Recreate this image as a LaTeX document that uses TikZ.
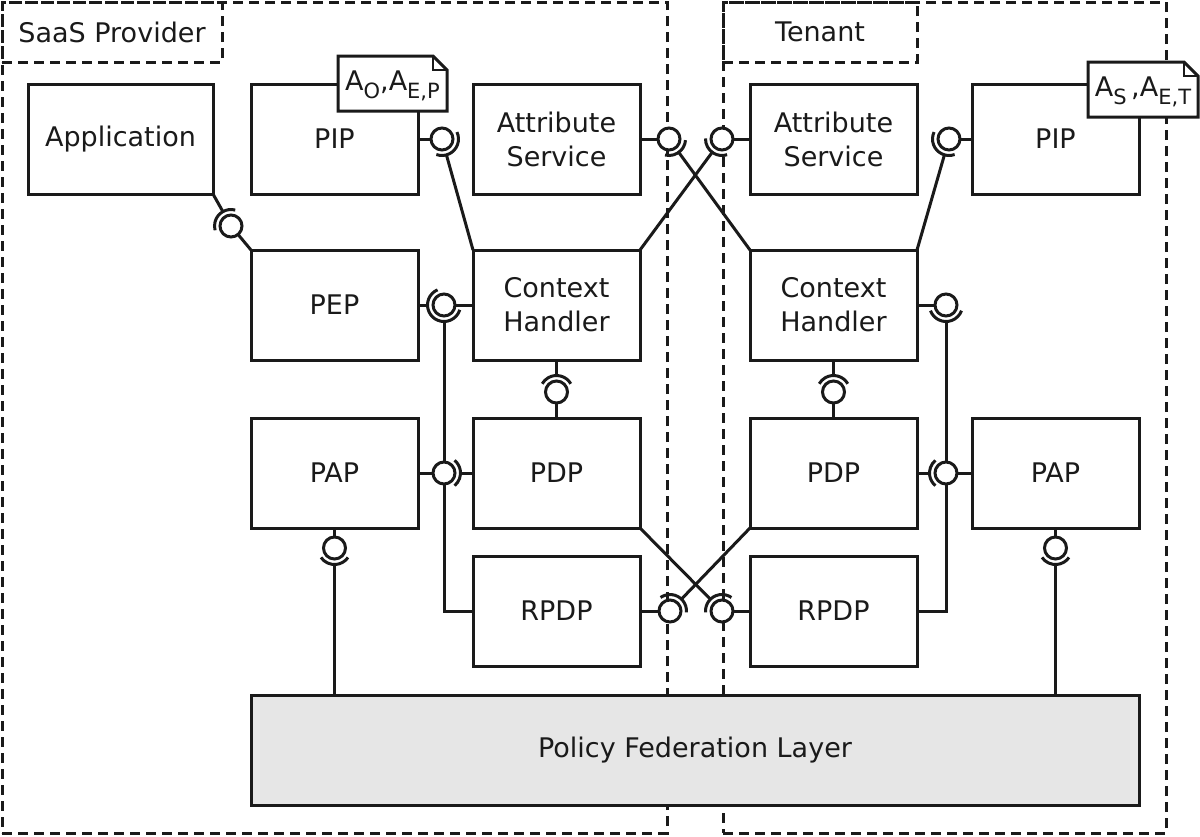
\documentclass[tikz,border=0pt]{standalone}
\usepackage{fontspec}
\setmainfont{DejaVu Sans}
\usetikzlibrary{calc,backgrounds}
\definecolor{ink}{HTML}{1A1A1A}
\definecolor{pflgray}{HTML}{E6E6E6}
\newcommand\sbs[1]{\raisebox{-4pt}{\fontsize{10.5}{10.5}\selectfont #1}}
\newcommand\sockarc[3]{\draw[ink,line width=1.5pt] ([shift={(#2:8.25pt)}]#1.center) arc[start angle=#2,end angle=#3,radius=8.25pt];}
\begin{document}
\begin{tikzpicture}[x=0.5pt,y=-0.5pt,
  font=\fontsize{13.5}{17}\selectfont,
  box/.style={draw=ink, line width=1.5pt, fill=white, minimum width=83.5pt, minimum height=55pt, inner sep=0pt, outer sep=0pt, align=center, text=ink},
  ball/.style={circle, draw=ink, fill=white, line width=1.5pt, minimum size=11pt, inner sep=0pt, outer sep=0pt},
  wire/.style={draw=ink, line width=1.5pt},
  dashbox/.style={draw=ink, line width=1.5pt, dash pattern=on 5pt off 3pt, inner sep=0pt, outer sep=0pt, text=ink},
  notebox/.style={draw=ink, fill=white, line width=1.5pt, line join=miter},
]
\useasboundingbox (0,0) rectangle (1200,836);
% regions
\node[dashbox, minimum width=332.5pt, minimum height=415.5pt] (saas) at (334.5,417.5) {};
\node[dashbox, minimum width=221.5pt, minimum height=415.5pt] (tenant) at (944.5,417.5) {};
\node[dashbox, minimum width=110pt, minimum height=30pt] (lsaas) at (112,32) {SaaS Provider};
\node[dashbox, minimum width=97pt, minimum height=30pt] (lten) at (820,32) {Tenant};
% boxes
\node[box, minimum width=92.5pt] (app) at (120.5,139) {Application};
\node[box] (pipL) at (334.5,139) {PIP};
\node[box] (asL) at (556.5,139) {Attribute\\Service};
\node[box] (asR) at (833.5,139) {Attribute\\Service};
\node[box] (pipR) at (1055.5,139) {PIP};
\node[box] (pep) at (334.5,305) {PEP};
\node[box] (chL) at (556.5,305) {Context\\Handler};
\node[box] (chR) at (833.5,305) {Context\\Handler};
\node[box] (papL) at (334.5,473) {PAP};
\node[box] (pdpL) at (556.5,473) {PDP};
\node[box] (pdpR) at (833.5,473) {PDP};
\node[box] (papR) at (1055.5,473) {PAP};
\node[box] (rpdpL) at (556.5,611) {RPDP};
\node[box] (rpdpR) at (833.5,611) {RPDP};
\node[box, fill=pflgray, minimum width=444pt] (pfl) at (695,750) {Policy Federation Layer};
% balls
\node[ball] (b1) at (231,226) {};
\node[ball] (b2) at (442,139) {};
\node[ball] (b3) at (669,139) {};
\node[ball] (b4) at (722,139) {};
\node[ball] (b5) at (949,139) {};
\node[ball] (b6) at (444,305) {};
\node[ball] (b7) at (946,305) {};
\node[ball] (b8) at (556.5,392) {};
\node[ball] (b9) at (833.5,392) {};
\node[ball] (b10) at (444,473) {};
\node[ball] (b11) at (946,473) {};
\node[ball] (b12) at (670,611) {};
\node[ball] (b13) at (722,611) {};
\node[ball] (b14) at (334.5,548) {};
\node[ball] (b15) at (1055.5,548) {};
\coordinate (cL) at (b6.center |- rpdpL.west);
\coordinate (cR) at (b7.center |- rpdpR.east);
\coordinate (p14) at (b14.center |- pfl.north);
\coordinate (p15) at (b15.center |- pfl.north);
% sockets
\sockarc{b1}{75}{195}
\sockarc{b2}{-110}{25}
\sockarc{b3}{-104}{-4}
\sockarc{b4}{178}{288}
\sockarc{b5}{155}{290}
\sockarc{b6}{113}{343}
\sockarc{b7}{200}{340}
\sockarc{b8}{30}{150}
\sockarc{b9}{30}{150}
\sockarc{b10}{-50}{50}
\sockarc{b11}{130}{230}
\sockarc{b12}{-5}{125}
\sockarc{b13}{55}{185}
\sockarc{b14}{215}{325}
\sockarc{b15}{215}{325}
% connectors
\begin{pgfonlayer}{background}
\draw[wire] (pep.north west) -- (b1);
\draw[wire] (app.south east) -- ($(b1.center)!8.25pt!(app.south east)$);
\draw[wire] (pipL.east) -- (b2);
\draw[wire] (chL.north west) -- ($(b2.center)!8.25pt!(chL.north west)$);
\draw[wire] (asL.east) -- (b3);
\draw[wire] (chR.north west) -- ($(b3.center)!8.25pt!(chR.north west)$);
\draw[wire] (asR.west) -- (b4);
\draw[wire] (chL.north east) -- ($(b4.center)!8.25pt!(chL.north east)$);
\draw[wire] (pipR.west) -- (b5);
\draw[wire] (chR.north east) -- ($(b5.center)!8.25pt!(chR.north east)$);
\draw[wire] (chL.west) -- (b6);
\draw[wire] (pep.east) -- ($(b6.center)!8.25pt!(pep.east)$);
\draw[wire] ($(b6.center)!8.25pt!(cL)$) -- (cL) -- (rpdpL.west);
\draw[wire] (chR.east) -- (b7);
\draw[wire] ($(b7.center)!8.25pt!(cR)$) -- (cR) -- (rpdpR.east);
\draw[wire] (pdpL.north) -- (b8);
\draw[wire] (chL.south) -- ($(b8.center)!8.25pt!(chL.south)$);
\draw[wire] (pdpR.north) -- (b9);
\draw[wire] (chR.south) -- ($(b9.center)!8.25pt!(chR.south)$);
\draw[wire] (papL.east) -- (b10);
\draw[wire] (pdpL.west) -- ($(b10.center)!8.25pt!(pdpL.west)$);
\draw[wire] (papR.west) -- (b11);
\draw[wire] (pdpR.east) -- ($(b11.center)!8.25pt!(pdpR.east)$);
\draw[wire] (rpdpL.east) -- (b12);
\draw[wire] (pdpR.south west) -- ($(b12.center)!8.25pt!(pdpR.south west)$);
\draw[wire] (rpdpR.west) -- (b13);
\draw[wire] (pdpL.south east) -- ($(b13.center)!8.25pt!(pdpL.south east)$);
\draw[wire] (papL.south) -- (b14);
\draw[wire] (p14) -- ($(b14.center)!8.25pt!(p14)$);
\draw[wire] (papR.south) -- (b15);
\draw[wire] (p15) -- ($(b15.center)!8.25pt!(p15)$);
\end{pgfonlayer}
% notes
\path[notebox] (338,56) -- (433,56) -- (447,70) -- (447,111) -- (338,111) -- cycle;
\draw[ink, line width=0.8pt] (433,56) -- (433,70) -- (447,70);
\node[text=ink, inner sep=0pt] (nL) at (392.5,86) {A\sbs{O},A\sbs{E,P}};
\path[notebox] (1088,62) -- (1184,62) -- (1198,76) -- (1198,117) -- (1088,117) -- cycle;
\draw[ink, line width=0.8pt] (1184,62) -- (1184,76) -- (1198,76);
\node[text=ink, inner sep=0pt] (nR) at (1143,92) {A\sbs{S}\,,A\sbs{E,T}};
\end{tikzpicture}
\end{document}
